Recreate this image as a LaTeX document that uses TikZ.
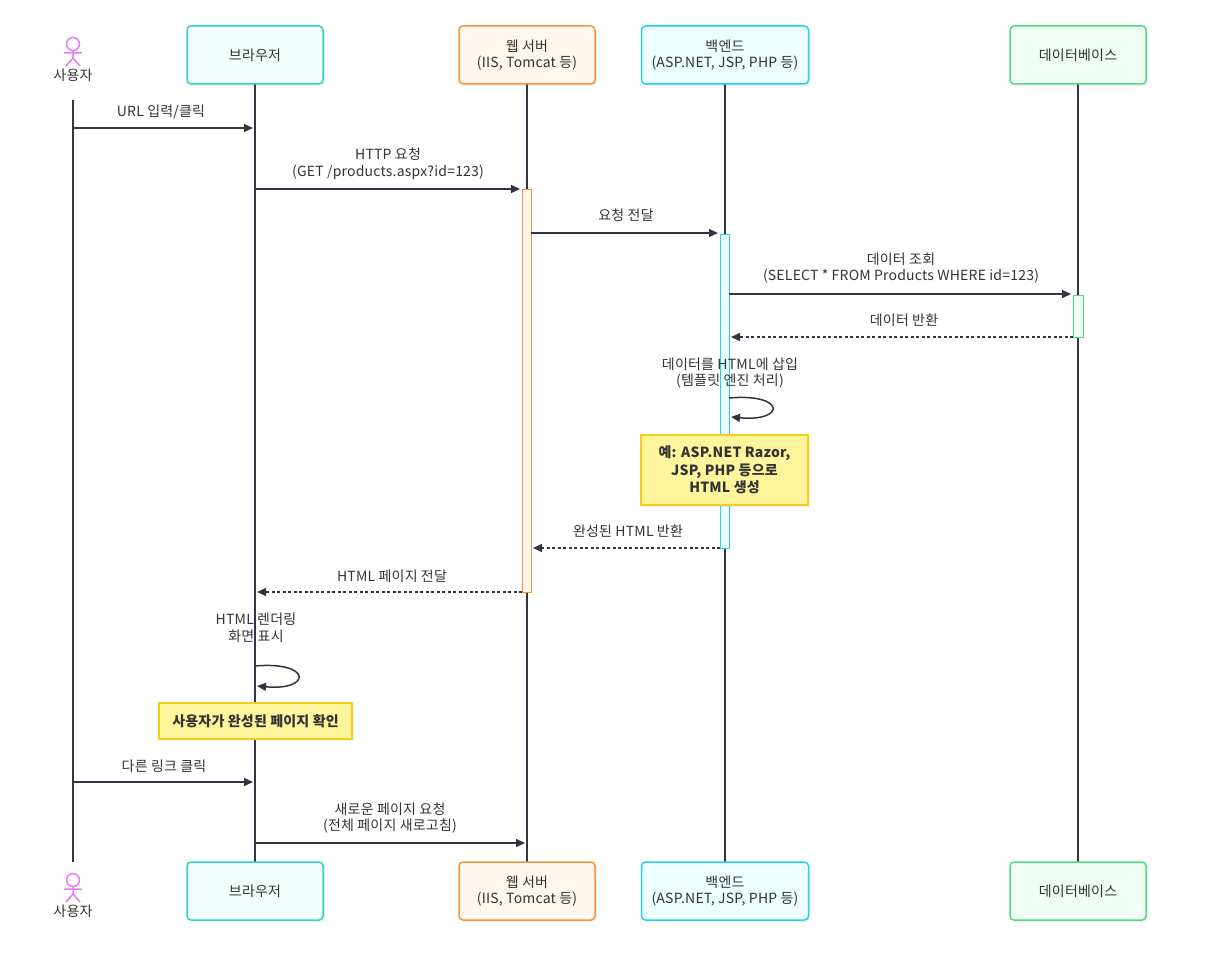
\documentclass[tikz,border=0pt]{standalone}
\usepackage{fontspec}
\setmainfont[LetterSpace=1.5]{Noto Sans CJK KR}
\usetikzlibrary{arrows.meta,shadows}
\definecolor{ln}{HTML}{333344}
\definecolor{txt}{HTML}{333333}
\definecolor{brD}{HTML}{2DD4BF}\definecolor{brF}{HTML}{F0FDFA}
\definecolor{wsD}{HTML}{FB923C}\definecolor{wsF}{HTML}{FFF7ED}
\definecolor{beD}{HTML}{22D3EE}\definecolor{beF}{HTML}{ECFEFF}
\definecolor{dbD}{HTML}{4ADE80}\definecolor{dbF}{HTML}{F0FDF4}
\definecolor{ntD}{HTML}{FACC15}\definecolor{ntF}{HTML}{FFF59D}
\definecolor{act}{HTML}{E879F9}
\tikzset{
  actbox/.style={draw, line width=1.5pt, rounded corners=4pt, minimum height=58pt, align=center, text=txt,
    drop shadow={opacity=0.12, shadow xshift=2pt, shadow yshift=-2pt}},
  lifeline/.style={draw=ln, line width=1.5pt},
  actv/.style={draw, line width=1pt},
  msg/.style={draw=ln, line width=1.5pt, -{Triangle[length=9pt,width=8pt]}},
  rmsg/.style={msg, dash pattern=on 3pt off 2.5pt},
  lbl/.style={text=txt, align=center, inner sep=0pt},
  notebox/.style={draw=ntD, fill=ntF, line width=1.5pt, align=center, text=txt, font=\fontsize{14}{17.5}\selectfont\bfseries,
    drop shadow={opacity=0.12, shadow xshift=2pt, shadow yshift=-2pt}},
  stick/.style={draw=act, line width=1.5pt}
}
\begin{document}
\begin{tikzpicture}[x=1pt,y=-1pt, font=\fontsize{14}{16.5}\selectfont]
\useasboundingbox (0,0) rectangle (1211,974);
% lifelines
\draw[lifeline] (73,100) -- (73,862);
\draw[lifeline] (255,84) -- (255,862);
\draw[lifeline] (527,84) -- (527,862);
\draw[lifeline] (725,84) -- (725,862);
\draw[lifeline] (1078,84) -- (1078,862);
% participant boxes
\foreach \y/\s in {55/T,891/B}{
  \node[actbox, draw=brD, fill=brF, minimum width=136pt] (br\s) at (255,\y) {브라우저};
  \node[actbox, draw=wsD, fill=wsF, minimum width=136pt] (ws\s) at (527,\y) {웹 서버\\(IIS, Tomcat 등)};
  \node[actbox, draw=beD, fill=beF, minimum width=167pt] (be\s) at (725,\y) {백엔드\\(ASP.NET, JSP, PHP 등)};
  \node[actbox, draw=dbD, fill=dbF, minimum width=136pt] (db\s) at (1078,\y) {데이터베이스};
}
% actors
\foreach \y/\s in {0/T,836/B}{
  \draw[stick] (73,44+\y) circle (6.5pt);
  \draw[stick] (73,50.5+\y) -- (73,58+\y) (64,53+\y) -- (82,53+\y) (66,66+\y) -- (73,58+\y) -- (80,66+\y);
  \node[lbl] (us\s) at (73,75+\y) {사용자};
}
% activations
\node[actv, draw=wsD, fill=wsF, minimum width=9pt, minimum height=403pt, inner sep=0pt] (aws) at (526.5,390.5) {};
\node[actv, draw=beD, fill=beF, minimum width=9pt, minimum height=314pt, inner sep=0pt] (abe) at (724.5,391) {};
\node[actv, draw=dbD, fill=dbF, minimum width=10pt, minimum height=42pt, inner sep=0pt] (adb) at (1078,316) {};
% endpoints
\coordinate (u1) at (73,128);   \coordinate (b1) at (253,128);
\coordinate (b2) at (255,189);  \coordinate (w2) at (520,189);
\coordinate (w3) at (531,233);  \coordinate (k3) at (718,233);
\coordinate (k4) at (729,294);  \coordinate (d4) at (1071,294);
\coordinate (d5) at (1073,337); \coordinate (k5) at (731,337);
\coordinate (k6a) at (729,398); \coordinate (k6b) at (731,417);
\coordinate (k8) at (720,548);  \coordinate (w8) at (533,548);
\coordinate (w9) at (522,592);  \coordinate (b9) at (257,592);
\coordinate (b10a) at (255,666); \coordinate (b10b) at (257,686);
\coordinate (u12) at (73,782);  \coordinate (b12) at (253,782);
\coordinate (b13) at (255,843); \coordinate (w13) at (525,843);
% messages
\node[lbl] at (161,112) {URL 입력/클릭};
\draw[msg] (u1) -- (b1);
\node[lbl] at (388,164) {HTTP 요청\\(GET /products.aspx?id=123)};
\draw[msg] (b2) -- (w2);
\node[lbl] at (626,215) {요청 전달};
\draw[msg] (w3) -- (k3);
\node[lbl] at (901,268) {데이터 조회\\(SELECT * FROM Products WHERE id=123)};
\draw[msg] (k4) -- (d4);
\node[lbl] at (904,320) {데이터 반환};
\draw[rmsg] (d5) -- (k5);
\node[lbl] at (730,373) {데이터를 HTML에 삽입\\(템플릿 엔진 처리)};
\draw[msg] (k6a) .. controls (786,393) and (786,422) .. (k6b);
\node[notebox, minimum width=167pt, minimum height=70pt] (n1) at (724.5,470) {예: ASP.NET Razor,\\JSP, PHP 등으로\\HTML 생성};
\node[lbl] at (628,531) {완성된 HTML 반환};
\draw[rmsg] (k8) -- (w8);
\node[lbl] at (392,576) {HTML 페이지 전달};
\draw[rmsg] (w9) -- (b9);
\node[lbl] at (256,628) {HTML 렌더링\\화면 표시};
\draw[msg] (b10a) .. controls (312,661) and (312,691) .. (b10b);
\node[notebox, minimum width=193pt, minimum height=36pt] (n2) at (255.5,721) {사용자가 완성된 페이지 확인};
\node[lbl] at (164,766) {다른 링크 클릭};
\draw[msg] (u12) -- (b12);
\node[lbl] at (390,818) {새로운 페이지 요청\\(전체 페이지 새로고침)};
\draw[msg] (b13) -- (w13);
\end{tikzpicture}
\end{document}
